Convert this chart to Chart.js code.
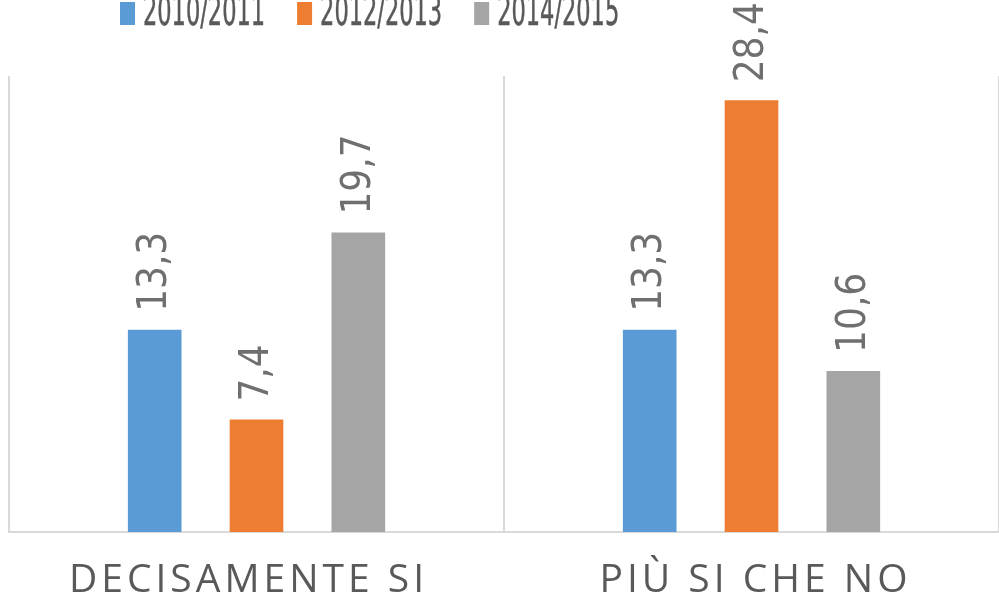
<!DOCTYPE html>
<html>
<head>
<meta charset="utf-8">
<script src="https://cdn.jsdelivr.net/npm/chart.js@4"></script>
<style>
  html, body { margin: 0; padding: 0; background: #fff; }
  #wrap { width: 999px; height: 603px; position: relative; }
</style>
</head>
<body>
<div id="wrap"><canvas id="chart" width="999" height="603"></canvas></div>
<script>
const categories = ["DECISAMENTE SI", "PIÙ SI CHE NO"];
const seriesNames = ["2010/2011", "2012/2013", "2014/2015"];
const values2010 = [13.3, 13.3];
const values2012 = [7.4, 28.4];
const values2014 = [19.7, 10.6];
const seriesColors = ["#5b9bd5", "#ed7d31", "#a5a5a5"];

const narrow = "'Liberation Sans Narrow', 'DejaVu Sans Condensed', sans-serif";

// value labels, turned upright like the original
const valueLabels = {
    id: "valueLabels",
    afterDatasetsDraw(chart) {
        const ctx = chart.ctx;
        ctx.save();
        ctx.fillStyle = "#6f6f6f";
        ctx.font = "40px " + narrow;
        ctx.textAlign = "left";
        ctx.textBaseline = "middle";
        chart.data.datasets.forEach((ds, i) => {
            chart.getDatasetMeta(i).data.forEach((bar, j) => {
                const txt = ds.data[j].toFixed(1).replace(".", ",");
                ctx.save();
                ctx.translate(bar.x + 1, bar.y - 18);
                ctx.rotate(-Math.PI / 2);
                ctx.fillText(txt, 0, 0);
                ctx.restore();
            });
        });
        ctx.restore();
    }
};

// category names with wide letter spacing
const categoryLabels = {
    id: "categoryLabels",
    afterDraw(chart) {
        const ctx = chart.ctx;
        const x = chart.scales.x;
        const nudge = [-8, 4];
        ctx.save();
        ctx.fillStyle = "#595959";
        ctx.font = "39px 'Open Sans', sans-serif";
        ctx.letterSpacing = "4px";
        ctx.textAlign = "center";
        ctx.textBaseline = "alphabetic";
        categories.forEach((c, i) => {
            ctx.fillText(c, x.getPixelForTick(i) + nudge[i], 592);
        });
        ctx.restore();
    }
};

// legend at the top, partly cut off as in the picture
const topLegend = {
    id: "topLegend",
    afterDraw(chart) {
        const ctx = chart.ctx;
        ctx.save();
        ctx.font = "41px " + narrow;
        ctx.textBaseline = "alphabetic";
        ctx.textAlign = "left";
        const squeeze = 0.61;
        let x = 120;
        chart.data.datasets.forEach(ds => {
            ctx.fillStyle = ds.backgroundColor;
            ctx.fillRect(x, 2, 15, 23);
            ctx.fillStyle = "#595959";
            ctx.strokeStyle = "#595959";
            ctx.lineWidth = 0.5;
            ctx.save();
            ctx.translate(x + 23, 25);
            ctx.scale(squeeze, 1);
            ctx.fillText(ds.label, 0, 0);
            ctx.strokeText(ds.label, 0, 0);
            ctx.restore();
            x += 23 + ctx.measureText(ds.label).width * squeeze + 32;
        });
        ctx.restore();
    }
};

const allValues = [values2010, values2012, values2014];

new Chart(document.getElementById("chart"), {
    type: "bar",
    data: {
        labels: categories,
        datasets: seriesNames.map((n, i) => ({
            label: n,
            data: allValues[i],
            backgroundColor: seriesColors[i],
            categoryPercentage: 0.617,
            barPercentage: 0.527
        }))
    },
    options: {
        responsive: false,
        animation: false,
        layout: { padding: { left: 9, right: 0, top: 76, bottom: 71 } },
        plugins: {
            legend: { display: false },
            tooltip: { enabled: false }
        },
        scales: {
            x: {
                grid: {
                    display: true,
                    offset: true,
                    drawTicks: false,
                    lineWidth: 2,
                    // the right edge line falls outside the original picture
                    color: (c) => c.index >= categories.length ? "rgba(0,0,0,0)" : "#d9d9d9"
                },
                border: { display: true, color: "#d9d9d9", width: 2 },
                ticks: { display: false }
            },
            y: {
                display: false,
                min: 0,
                max: 30
            }
        }
    },
    plugins: [valueLabels, categoryLabels, topLegend]
});
</script>
</body>
</html>
